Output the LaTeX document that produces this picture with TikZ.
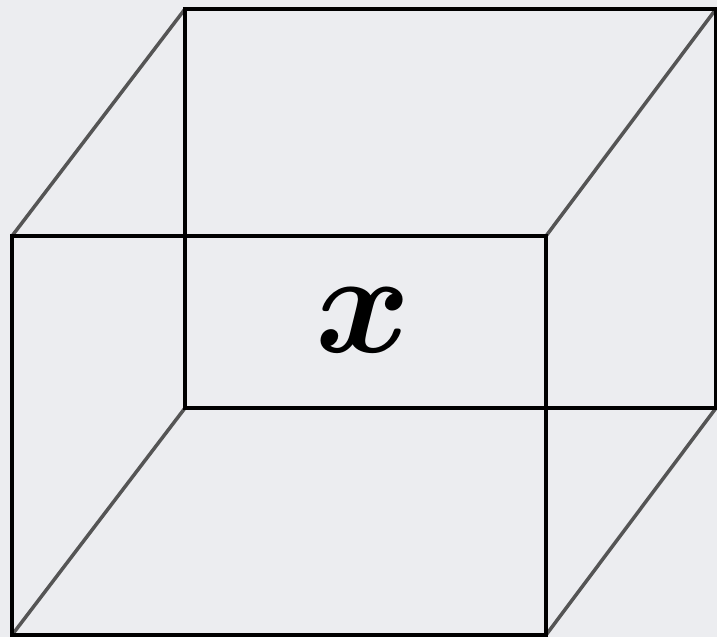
\documentclass[tikz,border=0pt]{standalone}
\usepackage{bm}
\definecolor{paper}{RGB}{236,237,240}
\definecolor{edgegrey}{RGB}{85,85,85}
\begin{document}
\begin{tikzpicture}[x=1pt,y=-1pt]
  % background and frame
  \fill[paper] (0,0) rectangle (717,637);
  \useasboundingbox (0,0) rectangle (717,637);
  % corners of the cube
  \coordinate (fA) at (12,236);
  \coordinate (fB) at (546,236);
  \coordinate (fC) at (546,635);
  \coordinate (fD) at (12,635);
  \coordinate (bA) at (185,9);
  \coordinate (bB) at (716,9);
  \coordinate (bC) at (716,408);
  \coordinate (bD) at (185,408);
  % depth edges
  \foreach \c in {A,B,C,D}
    \draw[edgegrey,line width=3.5pt] (f\c) -- (b\c);
  % back face
  \draw[line width=4.5pt] (bA) -- (bB) -- (bC) -- (bD) -- cycle;
  % front face
  \draw[line width=4.5pt] (fA) -- (fB) -- (fC) -- (fD) -- cycle;
  \node[scale=14.5,inner sep=0pt] (var) at (363,320) {$\bm{x}$};
\end{tikzpicture}
\end{document}
